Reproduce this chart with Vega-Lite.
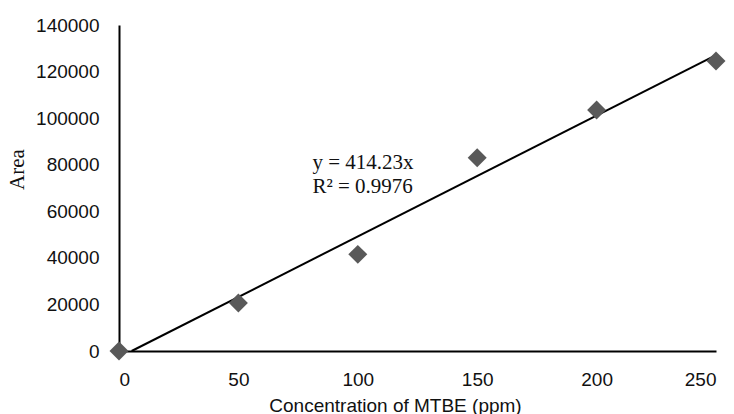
{
  "$schema": "https://vega.github.io/schema/vega-lite/v6.json",
  "width": 597,
  "height": 326,
  "autosize": "none",
  "padding": {"left": 119, "top": 25, "right": 18, "bottom": 63},
  "background": "white",
  "config": {"view": {"stroke": null}},
  "datasets": {
    "points": [
      {"conc": 0, "area": 0},
      {"conc": 50, "area": 20600},
      {"conc": 100, "area": 41500},
      {"conc": 150, "area": 83000},
      {"conc": 200, "area": 103500},
      {"conc": 250, "area": 124500}
    ],
    "trend": [
      {"conc": 5.3, "area": 0},
      {"conc": 250, "area": 127100}
    ],
    "labels": [
      {"conc": 81, "area": 80700, "text": "y = 414.23x"},
      {"conc": 81, "area": 70600, "text": "R² = 0.9976"}
    ]
  },
  "layer": [
    {
      "data": {"name": "trend"},
      "mark": {"type": "line", "color": "black", "strokeWidth": 2},
      "encoding": {
        "x": {"field": "conc", "type": "quantitative", "scale": {"domain": [0, 250], "nice": false, "zero": false},
          "axis": {"values": [0, 50, 100, 150, 200, 250], "grid": false, "ticks": false, "domainColor": "black", "domainWidth": 2,
            "labelFont": "Liberation Sans", "labelFontSize": 19, "labelColor": "#111", "labelPadding": 19,
            "title": "Concentration of MTBE (ppm)", "titleFont": "Liberation Sans", "titleFontSize": 19, "titleFontWeight": "normal", "titleColor": "#111",
            "titleX": 276, "titleY": 54, "titleBaseline": "middle", "titleAnchor": null, "titleAlign": "center"}},
        "y": {"field": "area", "type": "quantitative", "scale": {"domain": [0, 140000], "nice": false},
          "axis": {"values": [0, 20000, 40000, 60000, 80000, 100000, 120000, 140000], "grid": false, "ticks": false, "domainColor": "black", "domainWidth": 2,
            "labelFont": "Liberation Sans", "labelFontSize": 19, "labelColor": "#111", "labelPadding": 20, "format": "d",
            "title": "Area", "titleFont": "Liberation Serif", "titleFontSize": 21, "titleFontWeight": "normal", "titleColor": "#111",
            "titleAngle": -90, "titleX": -102, "titleY": 144, "titleAlign": "center", "titleBaseline": "middle", "titleAnchor": null}}
      }
    },
    {
      "data": {"name": "points"},
      "mark": {"type": "point", "shape": "diamond", "filled": true, "color": "#595959", "opacity": 1, "size": 360},
      "encoding": {
        "x": {"field": "conc", "type": "quantitative"},
        "y": {"field": "area", "type": "quantitative"}
      }
    },
    {
      "data": {"name": "labels"},
      "mark": {"type": "text", "align": "left", "baseline": "middle", "font": "Liberation Serif", "fontSize": 21, "color": "#111"},
      "encoding": {
        "x": {"field": "conc", "type": "quantitative"},
        "y": {"field": "area", "type": "quantitative"},
        "text": {"field": "text"}
      }
    }
  ]
}
